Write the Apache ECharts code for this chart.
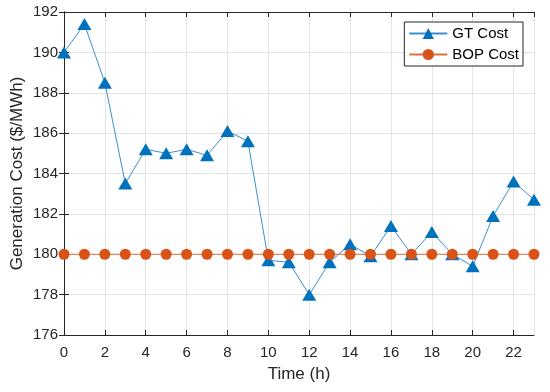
<!DOCTYPE html>
<html>
<head>
<meta charset="utf-8">
<script src="https://cdn.jsdelivr.net/npm/echarts@6/dist/echarts.min.js"></script>
<style>html,body{margin:0;padding:0;background:#fff}#c{width:550px;height:392px}</style>
</head>
<body>
<div id="c"></div>
<script>
var hours = [0,1,2,3,4,5,6,7,8,9,10,11,12,13,14,15,16,17,18,19,20,21,22,23];
var gtCost = [190.0,191.4,188.5,183.5,185.2,185.0,185.2,184.9,186.1,185.6,179.7,179.6,178.0,179.6,180.5,179.9,181.4,180.0,181.1,180.0,179.4,181.9,183.6,182.7];
var bopCost = [180,180,180,180,180,180,180,180,180,180,180,180,180,180,180,180,180,180,180,180,180,180,180,180];
var seriesNames = ['GT Cost','BOP Cost'];

var font = 'Liberation Sans, Arial, Helvetica, sans-serif';
var axisColor = '#262626';
var chart = echarts.init(document.getElementById('c'));
function pairs(v){ return hours.map(function(h,i){ return [h, v[i]]; }); }
chart.setOption({
  animation: false,
  backgroundColor: '#fff',
  textStyle: {fontFamily: font},
  grid: {left: 64, right: 16, top: 12, bottom: 57, containLabel: false, outerBoundsMode: 'none'},
  legend: {
    orient: 'vertical', right: 27, top: 22,
    backgroundColor: '#fff', borderColor: axisColor, borderWidth: 1,
    padding: [4, 4, 4, 4], itemGap: 6, itemWidth: 38, itemHeight: 14,
    textStyle: {fontFamily: font, fontSize: 15, color: '#000'},
    data: seriesNames
  },
  xAxis: [{
    type: 'value', min: 0, max: 23, interval: 2,
    name: 'Time (h)', nameLocation: 'middle', nameGap: 31, nameMoveOverlap: false,
    nameTextStyle: {fontFamily: font, fontSize: 17, color: '#262626'},
    axisLine: {show: true, lineStyle: {color: axisColor, width: 1}},
    axisTick: {show: true, inside: true, length: 5, lineStyle: {color: axisColor}},
    axisLabel: {fontFamily: font, fontSize: 15, color: '#262626', margin: 10, showMaxLabel: false},
    splitLine: {show: true, lineStyle: {color: '#e3e3e3', width: 1}}
  },{
    type: 'value', min: 0, max: 23, interval: 2, position: 'top',
    axisLine: {show: true, lineStyle: {color: axisColor, width: 1}},
    axisTick: {show: true, inside: true, length: 5, lineStyle: {color: axisColor}},
    axisLabel: {show: false}, splitLine: {show: false}
  }],
  yAxis: [{
    type: 'value', min: 176, max: 192, interval: 2,
    name: 'Generation Cost ($/MWh)', nameLocation: 'middle', nameGap: 38, nameMoveOverlap: false,
    nameTextStyle: {fontFamily: font, fontSize: 17, color: '#262626'},
    axisLine: {show: true, lineStyle: {color: axisColor, width: 1}},
    axisTick: {show: true, inside: true, length: 5, lineStyle: {color: axisColor}},
    axisLabel: {fontFamily: font, fontSize: 15, color: '#262626', margin: 6},
    splitLine: {show: true, lineStyle: {color: '#e3e3e3', width: 1}}
  },{
    type: 'value', min: 176, max: 192, interval: 2, position: 'right',
    axisLine: {show: true, lineStyle: {color: axisColor, width: 1}},
    axisTick: {show: true, inside: true, length: 5, lineStyle: {color: axisColor}},
    axisLabel: {show: false}, splitLine: {show: false}
  }],
  series: [{
    name: seriesNames[0], type: 'line', data: pairs(gtCost),
    symbol: 'triangle', symbolSize: [14, 12],
    itemStyle: {color: '#0072BD'},
    lineStyle: {color: '#3a8fd0', width: 1},
    z: 3
  },{
    name: seriesNames[1], type: 'line', data: pairs(bopCost),
    symbol: 'circle', symbolSize: 11,
    itemStyle: {color: '#D95319'},
    lineStyle: {color: '#e0713f', width: 1},
    z: 4
  }]
});
</script>
</body>
</html>
